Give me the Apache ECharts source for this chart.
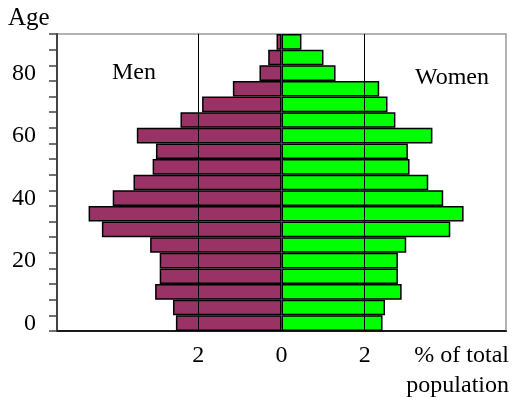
<!DOCTYPE html>
<html>
<head>
<meta charset="utf-8">
<script src="https://cdn.jsdelivr.net/npm/echarts@6/dist/echarts.min.js"></script>
<style>html,body{margin:0;padding:0;background:#fff}#c{width:515px;height:408px}</style>
</head>
<body>
<div id="c"></div>
<script>
// Age bins, bottom (0-4) to top (90-94)
const ageBins = ['0-4','5-9','10-14','15-19','20-24','25-29','30-34','35-39','40-44','45-49','50-54','55-59','60-64','65-69','70-74','75-79','80-84','85-89','90-94'];
// % of total population
const men   = [2.54, 2.61, 3.04, 2.93, 2.93, 3.16, 4.32, 4.64, 4.06, 3.56, 3.10, 3.02, 3.48, 2.43, 1.91, 1.17, 0.53, 0.32, 0.12];
const women = [2.43, 2.49, 2.89, 2.80, 2.80, 3.00, 4.06, 4.38, 3.89, 3.53, 3.08, 3.04, 3.63, 2.74, 2.55, 2.35, 1.30, 1.01, 0.48];
const xTickLabels = [-2, 0, 2];
const yTickLabels = [0, 20, 40, 60, 80];
const gridLines = [-2, 2];

const FONT = '"Liberation Serif", "DejaVu Serif", serif';
const chart = echarts.init(document.getElementById('c'), null, {renderer: 'canvas'});
chart.setOption({
  animation: false,
  grid: {left: 57, right: 9, top: 34, bottom: 77, show: true, borderColor: '#9a9a9a', borderWidth: 1.5, backgroundColor: 'transparent'},
  xAxis: {
    type: 'value', min: -5.4, max: 5.4,
    axisLine: {show: true, onZero: false, lineStyle: {color: '#1a1a1a', width: 2}},
    axisTick: {show: false},
    splitLine: {show: false},
    axisLabel: {
      customValues: xTickLabels, margin: 13,
      fontFamily: FONT, fontSize: 24, color: '#000',
      formatter: v => String(Math.abs(v))
    }
  },
  yAxis: [
    {
      type: 'value', min: 0, max: 95, interval: 5, position: 'left',
      axisLine: {show: true, onZero: false, lineStyle: {color: '#444', width: 2}},
      axisTick: {show: true, length: 8, lineStyle: {color: '#444', width: 1.5}},
      splitLine: {show: false},
      axisLabel: {
        customValues: yTickLabels, margin: 21,
        fontFamily: FONT, fontSize: 24, color: '#000',
        verticalAlign: 'bottom', lineHeight: 15
      }
    },
    {
      type: 'category', data: ageBins, show: false, boundaryGap: true
    }
  ],
  series: [
    {
      name: 'Men', type: 'bar', yAxisIndex: 1,
      data: men.map(v => -v),
      barWidth: '100%', barGap: '-100%',
      itemStyle: {color: '#993366', borderColor: '#000', borderWidth: 1.5},
      z: 2
    },
    {
      name: 'Women', type: 'bar', yAxisIndex: 1,
      data: women,
      barWidth: '100%', barGap: '-100%',
      itemStyle: {color: '#00ff00', borderColor: '#000', borderWidth: 1.5},
      z: 2,
      markLine: {
        silent: true, symbol: 'none', label: {show: false},
        lineStyle: {color: '#000', width: 1, type: 'solid'},
        data: gridLines.map(v => ({xAxis: v})),
        z: 5
      }
    }
  ],
  graphic: [
    {type: 'text', left: 8, top: 6, style: {text: 'Age', font: '25px ' + FONT, fill: '#000'}},
    {type: 'text', x: 134, y: 73, style: {text: 'Men', font: '24px ' + FONT, fill: '#000', align: 'center', verticalAlign: 'middle'}},
    {type: 'text', x: 452, y: 78, style: {text: 'Women', font: '24px ' + FONT, fill: '#000', align: 'center', verticalAlign: 'middle'}},
    {type: 'text', x: 509, y: 356, style: {text: '% of total', font: '24px ' + FONT, fill: '#000', align: 'right', verticalAlign: 'middle'}},
    {type: 'text', x: 509, y: 386, style: {text: 'population', font: '24px ' + FONT, fill: '#000', align: 'right', verticalAlign: 'middle'}}
  ]
});
</script>
</body>
</html>
